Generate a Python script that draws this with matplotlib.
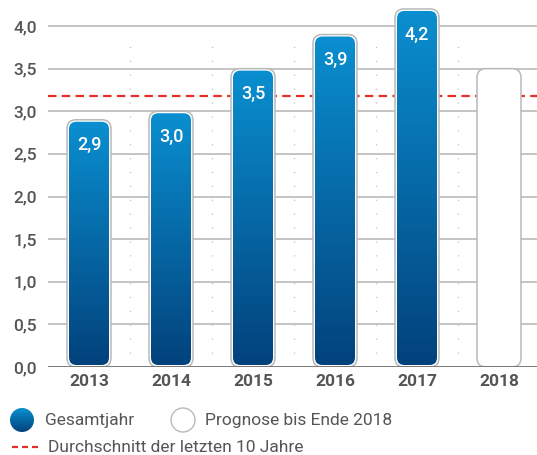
import numpy as np
import matplotlib
matplotlib.use("Agg")
import matplotlib.pyplot as plt
from matplotlib.patches import FancyBboxPatch, Circle
from matplotlib.colors import LinearSegmentedColormap
from matplotlib.lines import Line2D

# ---- data ----
years = ["2013", "2014", "2015", "2016", "2017", "2018"]
values = [2.9, 3.0, 3.5, 3.9, 4.2, 3.5]
is_forecast = [False, False, False, False, False, True]
value_labels = ["2,9", "3,0", "3,5", "3,9", "4,2", ""]
average_10y = 3.18
yticks = [0.0, 0.5, 1.0, 1.5, 2.0, 2.5, 3.0, 3.5, 4.0]
ytick_labels = ["0,0", "0,5", "1,0", "1,5", "2,0", "2,5", "3,0", "3,5", "4,0"]
legend_labels = ["Gesamtjahr", "Prognose bis Ende 2018", "Durchschnitt der letzten 10 Jahre"]

plt.rcParams['font.family'] = ['Roboto', 'DejaVu Sans']

W, H = 537, 455
fig = plt.figure(figsize=(W / 100, H / 100), dpi=100)
y0_px = 367
ax = fig.add_axes([48 / W, (H - y0_px) / H, 1 - 48 / W, y0_px / H])

unit_x = 82.0   # px per category
unit_y = 85.25  # px per value unit
xmin = -0.5
xmax = xmin + (W - 48) / unit_x
ymax = y0_px / unit_y

text_col = "#555555"
grid_col = "#b4b4b4"
cmap = LinearSegmentedColormap.from_list("blue", ["#02427c", "#0a8fd0"])

# grid lines
for t in yticks[1:]:
    ax.axhline(t, color=grid_col, lw=1.1, zorder=0)
ax.axhline(0, color="#707070", lw=1.3, zorder=5)

# dotted vertical separators
for i in range(len(years) - 1):
    ax.plot([i + 0.5, i + 0.5], [0, 3.87], color="#c0c0c0", lw=1.0,
            linestyle=(0, (0.8, 9.2)), zorder=0)

# average line
ax.axhline(average_10y, color="#e3302a", lw=1.6, dashes=(3.8, 2.4), zorder=1)

aspect = unit_x / unit_y
outer_w = 44 / unit_x
inner_w = 40 / unit_x
gap_y = 2 / unit_y
r_out = 9 / unit_x
r_in = 7.5 / unit_x

grad = np.linspace(0, 1, 256).reshape(-1, 1)

for i, (v, fc) in enumerate(zip(values, is_forecast)):
    outer = FancyBboxPatch((i - outer_w / 2, 0), outer_w, v,
                           boxstyle=f"round,pad=0,rounding_size={r_out}",
                           mutation_aspect=aspect, facecolor="white",
                           edgecolor="#b9b9b9", lw=1.1, zorder=2)
    ax.add_patch(outer)
    if not fc:
        inner = FancyBboxPatch((i - inner_w / 2, gap_y), inner_w, v - 2 * gap_y,
                               boxstyle=f"round,pad=0,rounding_size={r_in}",
                               mutation_aspect=aspect, facecolor="none",
                               edgecolor="none", zorder=3)
        ax.add_patch(inner)
        im = ax.imshow(grad, extent=[i - inner_w / 2, i + inner_w / 2, gap_y, v - gap_y],
                       origin="lower", cmap=cmap, aspect="auto", zorder=3)
        im.set_clip_path(inner)
        ax.text(i, v - 0.3, value_labels[i], color="white", ha="center", va="center",
                fontsize=13, fontweight="medium", zorder=6)

ax.set_xlim(xmin, xmax)
ax.set_ylim(0, ymax)
ax.set_yticks(yticks)
ax.set_yticklabels(ytick_labels)
ax.set_xticks(range(len(years)))
ax.set_xticklabels(years)
ax.tick_params(axis="y", length=0, pad=8, labelsize=12.5, labelcolor=text_col)
ax.tick_params(axis="x", length=0, pad=5, labelsize=12.5, labelcolor=text_col)
for lab in ax.get_xticklabels():
    lab.set_fontweight("bold")
for lab in ax.get_yticklabels():
    lab.set_fontweight("medium")
for s in ax.spines.values():
    s.set_visible(False)
ax.set_facecolor("none")

# legend in pixel coordinates
lax = fig.add_axes([0, 0, 1, (H - 395) / H])
lax.set_xlim(0, W)
lax.set_ylim(H, 395)
lax.axis("off")
c1 = Circle((22, 420), 12, facecolor="none", edgecolor="none")
lax.add_patch(c1)
im = lax.imshow(grad, extent=[10, 34, 432, 408], origin="lower", cmap=cmap, aspect="auto")
im.set_clip_path(c1)
lax.text(45, 420, legend_labels[0], color=text_col, fontsize=12.5, va="center", ha="left")
lax.add_patch(Circle((183, 420), 12, facecolor="white", edgecolor="#b9b9b9", lw=1.0))
lax.text(205, 420, legend_labels[1], color=text_col, fontsize=12.5, va="center", ha="left")
lax.add_line(Line2D([12, 38], [447, 447], color="#e3302a", lw=1.6, dashes=(2.7, 1.8)))
lax.text(48, 447, legend_labels[2], color=text_col, fontsize=12.5, va="center", ha="left")
lax.set_xlim(0, W)
lax.set_ylim(H, 395)

fig.savefig("out.png", dpi=100)
